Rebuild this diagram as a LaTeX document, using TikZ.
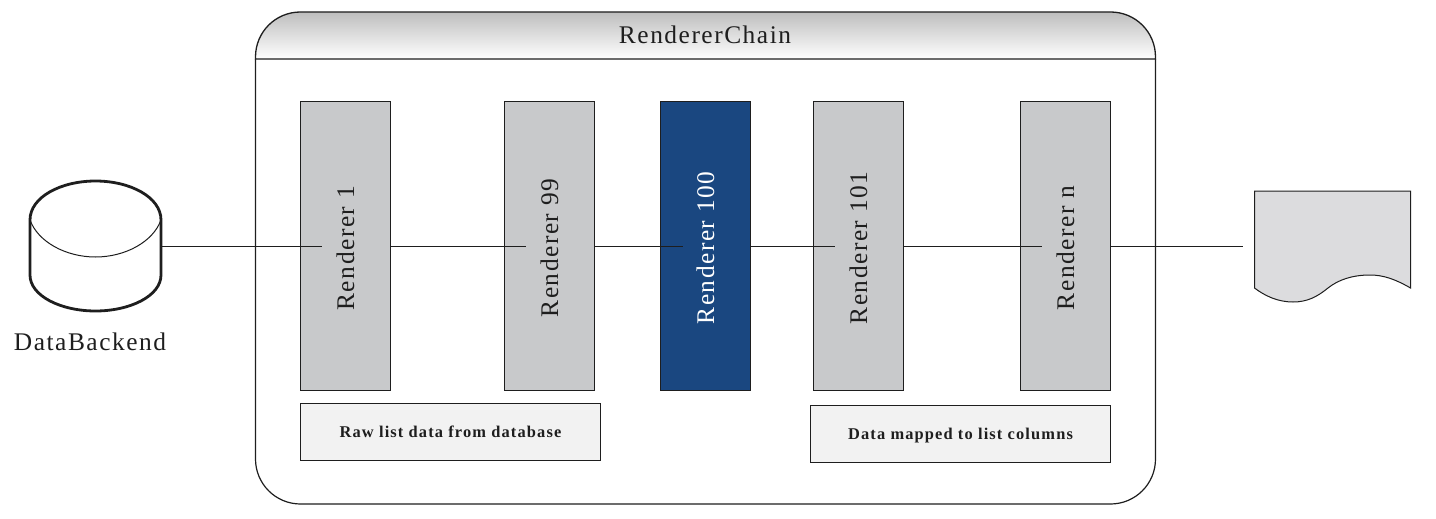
\documentclass[tikz,border=0pt]{standalone}
\usepackage{fontspec}
\setmainfont{Liberation Serif}
\newfontfamily\lblfont[LetterSpace=6]{Liberation Serif}
\newfontfamily\notefont[LetterSpace=7]{Liberation Serif Bold}
\definecolor{boxgrey}{HTML}{C8C9CB}
\definecolor{boxblue}{HTML}{1A4780}
\definecolor{notegrey}{HTML}{F2F2F2}
\definecolor{docgrey}{HTML}{DCDCDE}
\definecolor{ink}{HTML}{1E1E1E}
\definecolor{headgrey}{HTML}{BEBEBE}
\tikzset{
  rbox/.style={draw=ink,line width=1pt,fill=boxgrey,minimum width=90pt,minimum height=288.5pt,inner sep=0pt,text=ink,font=\lblfont\fontsize{25.4}{28}\selectfont},
  rblue/.style={rbox,fill=boxblue,text=white},
  notebox/.style={draw=ink,line width=1pt,fill=notegrey,minimum width=300pt,minimum height=57pt,inner sep=0pt,text=ink,text height=11.6pt,text depth=1pt,font=\notefont\fontsize{16.4}{18}\selectfont},
  bigtext/.style={text=ink,inner sep=0pt,font=\lblfont\fontsize{25.4}{28}\selectfont},
  conn/.style={draw=ink,line width=1pt},
  thin outline/.style={draw=ink,line width=1pt},
  anchorbox/.style={inner sep=0pt,minimum width=131pt,minimum height=131pt}
}
\begin{document}
\begin{tikzpicture}[x=1pt,y=-1pt]
\useasboundingbox (0,0) rectangle (1436,519);
% RendererChain frame
\draw[thin outline,line width=1.2pt,fill=white,rounded corners=45pt] (255.5,59) -- (255.5,504) -- (1155.5,504) -- (1155.5,59);
\draw[thin outline,line width=1.3pt,top color=headgrey,bottom color=white]
  (255.5,59) -- (255.5,57) .. controls (255.5,32) and (275.5,12) .. (300.5,12)
  -- (1110.5,12) .. controls (1135.5,12) and (1155.5,32) .. (1155.5,57) -- (1155.5,59) -- cycle;
\node[bigtext] (title) at (705,34.5) {RendererChain};
% Renderers
\node[rbox] (r1) at (345.5,245.8) {\rotatebox{90}{Renderer 1\hspace{5pt}}};
\node[rbox] (r99) at (549.5,245.8) {\rotatebox{90}{Renderer 99\hspace{4.5pt}}};
\node[rblue] (r100) at (705.5,245.8) {\rotatebox{90}{Renderer 100\hspace{4.5pt}}};
\node[rbox] (r101) at (858.5,245.8) {\rotatebox{90}{Renderer 101\hspace{4.5pt}}};
\node[rbox] (rn) at (1065.5,245.8) {\rotatebox{90}{Renderer n\hspace{4.5pt}}};
% Notes
\node[notebox] (raw) at (450.5,432) {Raw list data from database};
\node[notebox] (mapped) at (960.5,434) {Data mapped to list columns};
% Database
\node[anchorbox] (db) at (95.5,246) {};
\draw[draw=ink,line width=2.8pt,fill=white] (30,220) .. controls (30,197) and (61,181) .. (95.5,181) .. controls (130,181) and (161,197) .. (161,220) -- (161,275) .. controls (161,296) and (130,311) .. (95.5,311) .. controls (61,311) and (30,296) .. (30,275) -- cycle;
\draw[draw=ink,line width=1pt] (30,220) .. controls (38,242) and (66,257) .. (95.5,257) .. controls (125,257) and (153,242) .. (161,220);
\node[bigtext] (dblabel) at (90,342) {DataBackend};
% Document
\node[inner sep=0pt,minimum width=157pt,minimum height=111pt] (doc) at (1332.5,246.5) {};
\draw[thin outline,fill=docgrey] (1254.5,191) -- (1410.5,191) -- (1410.5,288) .. controls (1395,279) and (1383,275) .. (1370,275) .. controls (1352,275) and (1338,280) .. (1328,288) .. controls (1317,297) and (1307,302) .. (1293,302) .. controls (1278,302) and (1265,296) .. (1254.5,288) -- cycle;
% Connector ends
\coordinate (e1) at (322,246);
\coordinate (e99) at (526,246);
\coordinate (e100) at (683,246);
\coordinate (e101) at (835,246);
\coordinate (en) at (1042,246);
\coordinate (eout) at (1243,246);
\draw[conn] (db.east |- e1) -- (e1);
\draw[conn] (r1.east |- e1) -- (e99);
\draw[conn] (r99.east |- e1) -- (e100);
\draw[conn] (r100.east |- e1) -- (e101);
\draw[conn] (r101.east |- e1) -- (en);
\draw[conn] (rn.east |- e1) -- (eout);
\end{tikzpicture}
\end{document}
